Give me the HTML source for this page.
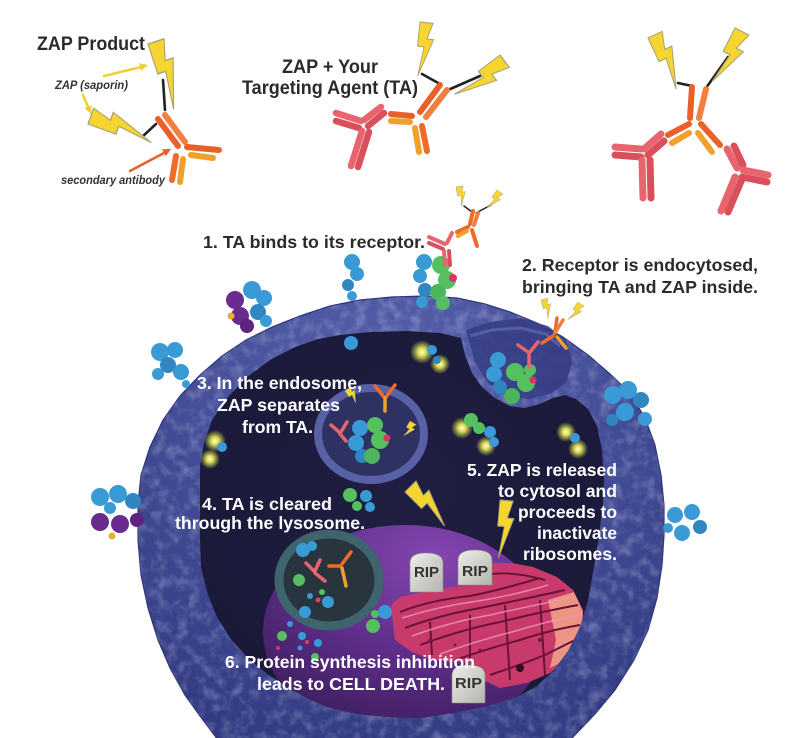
<!DOCTYPE html>
<html><head><meta charset="utf-8"><style>
html,body{margin:0;padding:0;background:#fff;}
svg{display:block;}
text{font-family:"Liberation Sans",Arial,sans-serif;font-weight:bold;}
</style></head><body>
<svg width="799" height="738" viewBox="0 0 799 738" xmlns="http://www.w3.org/2000/svg">
<defs>
<radialGradient id="memG" cx="0.5" cy="0.2" r="0.85">
 <stop offset="0" stop-color="#5a64ae"/>
 <stop offset="0.5" stop-color="#434c96"/>
 <stop offset="1" stop-color="#323b82"/>
</radialGradient>
<radialGradient id="nucG" cx="0.6" cy="0.15" r="0.9">
 <stop offset="0" stop-color="#8446b0"/>
 <stop offset="0.5" stop-color="#5f2e8a"/>
 <stop offset="1" stop-color="#3a1c5a"/>
</radialGradient>
<radialGradient id="cytG" cx="0.5" cy="0.4" r="0.7">
 <stop offset="0" stop-color="#201e42"/>
 <stop offset="1" stop-color="#191836"/>
</radialGradient>
<radialGradient id="glow">
 <stop offset="0" stop-color="#ffffd8"/>
 <stop offset="0.35" stop-color="#f2ee5a" stop-opacity="0.9"/>
 <stop offset="1" stop-color="#c8e040" stop-opacity="0"/>
</radialGradient>
<linearGradient id="tomb" x1="0" y1="0" x2="1" y2="1">
 <stop offset="0" stop-color="#eeeeea"/><stop offset="1" stop-color="#b4b4ae"/>
</linearGradient>
<path id="bolt" d="M0,0 L12,0 L8,12 L14,12 L3,40 L6,18 L0,18 Z" fill="#f6d530" stroke="#a8a278" stroke-width="0.8"/>
<filter id="tex" x="0" y="0" width="1" height="1">
 <feTurbulence type="fractalNoise" baseFrequency="0.09" numOctaves="3" seed="3" result="n"/>
 <feColorMatrix in="n" type="matrix" values="0 0 0 0 0.78  0 0 0 0 0.82  0 0 0 0 1  2.2 0 0 0 -0.95" result="c"/>
 <feComposite in="c" in2="SourceGraphic" operator="in"/>
</filter>
<path id="memP" d="M218,740 L200,716 L185,695 L170,668 L158,640 L148,608 L141,575 L138,540 L138,505 L141,475 L150,447 L163,420 L180,396 L200,375 L222,356 L246,340 L272,327 L300,316 L330,306 L360,300 L392,297 L425,296 L457,298 L485,304 L510,312 L537,323 L563,337 L588,355 L610,374 L630,393 L645,418 L655,445 L661,475 L664,505 L664,535 L662,565 L657,598 L648,630 L634,660 L615,690 L595,714 L575,735 L570,740 Z"/>
<path id="cytoP" d="M200,467 L200,500 L200,540 L201,567 L208,595 L217,617 L230,638 L247,657 L266,673 L287,687 L307,698 L327,707 L357,714 L387,717 L420,718 L453,713 L483,707 L517,697 L537,686 L553,671 L568,651 L580,627 L588,600 L594,567 L599,535 L603,505 L604,478 L602,450 L597,426 L588,409 L576,399 L565,395 L553,398 L540,404 L525,408 L510,406 L495,398 L482,387 L472,373 L465,355 L461,338 L440,333 L407,331 L370,332 L340,335 L318,339 L295,347 L270,360 L247,377 L228,397 L212,420 L204,443 Z"/>
<clipPath id="cyto"><use href="#cytoP"/></clipPath>
</defs>

<rect width="799" height="738" fill="#fff"/>

<!-- ===== TOP: ZAP Product ===== -->
<text x="37" y="50" font-size="19" fill="#2b2b2b" textLength="108" lengthAdjust="spacingAndGlyphs">ZAP Product</text>
<text x="55" y="89" font-size="11.5" font-style="italic" fill="#333" textLength="73" lengthAdjust="spacingAndGlyphs">ZAP (saporin)</text>
<text x="61" y="184" font-size="11.5" font-style="italic" fill="#333" textLength="104" lengthAdjust="spacingAndGlyphs">secondary antibody</text>
<g stroke-linecap="round">
<line x1="104" y1="76" x2="141" y2="67" stroke="#f0d030" stroke-width="2.5"/>
<polygon points="148,65 141.2,70.9 139.2,63.1" fill="#f0d030"/>
<line x1="83" y1="95" x2="88" y2="107" stroke="#f0d030" stroke-width="2.5"/>
<polygon points="91,114 91.8,105.2 84.4,108" fill="#f0d030"/>
<line x1="130" y1="171" x2="164" y2="153" stroke="#e8602a" stroke-width="2.5"/>
<polygon points="171,149 165.8,156.2 162,149.2" fill="#e8602a"/>
</g>
<g stroke="#222" stroke-width="2.6" stroke-linecap="round">
<line x1="165" y1="110" x2="163" y2="80"/>
<line x1="156" y1="124" x2="142" y2="137"/>
</g>
<use href="#bolt" transform="translate(148,44) rotate(-18) scale(1.4,1.75)"/>
<use href="#bolt" transform="translate(88,124) rotate(-70) scale(1.4,1.65)"/>
<g stroke-linecap="round" stroke-width="6">
<line x1="158" y1="119" x2="178" y2="146" stroke="#e8602a"/>
<line x1="165" y1="115" x2="185" y2="142" stroke="#f08040"/>
<line x1="187" y1="147" x2="219" y2="150" stroke="#e8602a"/>
<line x1="191" y1="155" x2="213" y2="158" stroke="#f2a02c"/>
<line x1="176" y1="156" x2="172" y2="180" stroke="#ee6b2a"/>
<line x1="183" y1="159" x2="180" y2="182" stroke="#f2a02c"/>
</g>

<!-- ===== TOP: ZAP + TA ===== -->
<text x="282" y="73" font-size="19.5" fill="#2b2b2b" textLength="96" lengthAdjust="spacingAndGlyphs">ZAP + Your</text>
<text x="242" y="94" font-size="19.5" fill="#2b2b2b" textLength="176" lengthAdjust="spacingAndGlyphs">Targeting Agent (TA)</text>
<g stroke-linecap="round" stroke-width="6.5">
<line x1="336" y1="113" x2="361" y2="121" stroke="#e8646e"/>
<line x1="336" y1="121" x2="359" y2="128" stroke="#d9505c"/>
<line x1="364" y1="120" x2="381" y2="107" stroke="#e8646e"/>
<line x1="368" y1="126" x2="384" y2="113" stroke="#d9505c"/>
<line x1="362" y1="131" x2="351" y2="166" stroke="#e8646e"/>
<line x1="369" y1="132" x2="358" y2="167" stroke="#d9505c"/>
</g>
<g stroke="#222" stroke-width="2.6" stroke-linecap="round">
<line x1="440" y1="84" x2="422" y2="74"/>
<line x1="448" y1="90" x2="480" y2="76"/>
</g>
<use href="#bolt" transform="translate(420,22) rotate(6) scale(1.1,1.35)"/>
<use href="#bolt" transform="translate(500,55) rotate(53) scale(1.3,1.5)"/>
<g stroke-linecap="round" stroke-width="6">
<line x1="420" y1="112" x2="440" y2="85" stroke="#e8602a"/>
<line x1="426" y1="117" x2="447" y2="90" stroke="#f08040"/>
<line x1="412" y1="116" x2="391" y2="114" stroke="#e8602a"/>
<line x1="410" y1="122" x2="391" y2="121" stroke="#f2a02c"/>
<line x1="422" y1="126" x2="427" y2="151" stroke="#ee6b2a"/>
<line x1="415" y1="128" x2="419" y2="152" stroke="#f2a02c"/>
</g>

<!-- ===== TOP RIGHT ===== -->
<g stroke="#222" stroke-width="2.6" stroke-linecap="round">
<line x1="692" y1="86" x2="678" y2="83"/>
<line x1="706" y1="88" x2="728" y2="57"/>
</g>
<use href="#bolt" transform="translate(648,38) rotate(-25) scale(1.3,1.45)"/>
<use href="#bolt" transform="translate(735,28) rotate(27) scale(1.3,1.45)"/>
<g stroke-linecap="round" stroke-width="6">
<line x1="690" y1="118" x2="692" y2="87" stroke="#e8602a"/>
<line x1="699" y1="118" x2="706" y2="89" stroke="#f08040"/>
<line x1="689" y1="124" x2="668" y2="135" stroke="#e8602a"/>
<line x1="689" y1="133" x2="672" y2="143" stroke="#f2a02c"/>
<line x1="701" y1="124" x2="720" y2="145" stroke="#e8602a"/>
<line x1="698" y1="133" x2="712" y2="152" stroke="#f2a02c"/>
</g>
<g stroke-linecap="round" stroke-width="7">
<line x1="615" y1="147" x2="641" y2="149" stroke="#e8646e"/>
<line x1="615" y1="155" x2="641" y2="157" stroke="#d9505c"/>
<line x1="644" y1="149" x2="661" y2="134" stroke="#e8646e"/>
<line x1="648" y1="155" x2="664" y2="141" stroke="#d9505c"/>
<line x1="642" y1="160" x2="643" y2="198" stroke="#e8646e"/>
<line x1="650" y1="160" x2="651" y2="198" stroke="#d9505c"/>
<line x1="727" y1="149" x2="737" y2="168" stroke="#e8646e"/>
<line x1="734" y1="146" x2="743" y2="165" stroke="#d9505c"/>
<line x1="743" y1="170" x2="768" y2="175" stroke="#e8646e"/>
<line x1="742" y1="177" x2="767" y2="182" stroke="#d9505c"/>
<line x1="735" y1="177" x2="721" y2="211" stroke="#e8646e"/>
<line x1="742" y1="179" x2="728" y2="212" stroke="#d9505c"/>
</g>

<!-- ===== CELL ===== -->
<use href="#memP" fill="url(#memG)" stroke="#2c3475" stroke-width="1.2"/>
<use href="#memP" fill="#fff" filter="url(#tex)" opacity="0.28"/>
<path d="M466,330 L490,322 L520,318 L548,326 L566,340 L572,362 L566,383 L550,394 L528,399 L505,395 L488,383 L475,362 Z" fill="#353c82" opacity="0.85"/>
<path d="M470,336 L492,330 L520,328 L546,334 L560,346" fill="none" stroke="#6a72b8" stroke-width="3" opacity="0.6"/>
<use href="#cytoP" fill="url(#cytG)"/>
<g clip-path="url(#cyto)">
 <ellipse cx="405" cy="632" rx="142" ry="107" fill="url(#nucG)"/>
 <path d="M391,605 L400,597 L433,590 L467,585 L478,570 L490,563 L512,563 L533,567 L557,577 L573,590 L583,610 L583,633 L573,653 L550,673 L527,683 L500,688 L483,680 L467,662 L450,662 L433,660 L412,652 L395,640 Z" fill="#c93a6c"/>
 <path d="M548,600 L574,592 L583,612 L580,640 L566,660 L550,668 L556,640 Z" fill="#f2a68a" opacity="0.85"/>
 <g fill="none" stroke="#6b1236" stroke-width="2">
  <path d="M400,612 Q430,600 470,596 Q500,590 540,578"/>
  <path d="M405,628 Q440,615 480,608 Q520,600 565,590"/>
  <path d="M420,645 Q460,630 500,622 Q540,612 578,605"/>
  <path d="M455,660 Q490,648 520,640 Q550,630 580,625"/>
  <path d="M490,675 Q520,665 545,655 Q565,645 575,640"/>
  <path d="M485,575 Q510,570 545,580"/>
  <path d="M430,622 L432,655 M470,615 L470,660 M505,605 L510,680 M540,600 L545,675"/>
 </g>
 <g fill="none" stroke="#f09ab2" stroke-width="1.5" opacity="0.8">
  <path d="M402,618 Q440,606 478,601 Q515,595 548,585"/>
  <path d="M412,636 Q450,622 490,615 Q530,606 570,598"/>
  <path d="M440,654 Q480,640 512,632 Q545,622 578,615"/>
 </g>
 <circle cx="520" cy="668" r="4" fill="#3a0a20"/>
 <circle cx="540" cy="640" r="2" fill="#7a1a40"/>
 <circle cx="430" cy="640" r="1.5" fill="#7a1a40"/>
 <circle cx="455" cy="645" r="1.5" fill="#7a1a40"/>
 <circle cx="480" cy="650" r="1.5" fill="#7a1a40"/>
</g>

<ellipse cx="329" cy="580" rx="50" ry="46" fill="#28343e" stroke="#3f646e" stroke-width="9"/>
<ellipse cx="371" cy="434" rx="53" ry="46" fill="#2e3262" stroke="#5860a6" stroke-width="8"/>

<path d="M410,592 L410,563 Q410,553 426,553 Q443,553 443,563 L443,592 Z" fill="url(#tomb)" stroke="#8a8a86" stroke-width="0.6"/>
<path d="M458,585 L458,560 Q458,550 475,550 Q492,550 492,560 L492,585 Z" fill="url(#tomb)" stroke="#8a8a86" stroke-width="0.6"/>
<path d="M452,703 L452,675 Q452,665 468,665 Q485,665 485,675 L485,703 Z" fill="url(#tomb)" stroke="#8a8a86" stroke-width="0.6"/>
<text x="414" y="577" font-size="15" fill="#333" textLength="25" lengthAdjust="spacingAndGlyphs">RIP</text>
<text x="462" y="576" font-size="15" fill="#333" textLength="26" lengthAdjust="spacingAndGlyphs">RIP</text>
<text x="455" y="688" font-size="15" fill="#333" textLength="27" lengthAdjust="spacingAndGlyphs">RIP</text>

<g>
<circle cx="422" cy="352" r="12" fill="url(#glow)"/>
<circle cx="440" cy="364" r="10" fill="url(#glow)"/>
<circle cx="215" cy="441" r="11" fill="url(#glow)"/>
<circle cx="210" cy="459" r="10" fill="url(#glow)"/>
<circle cx="462" cy="428" r="11" fill="url(#glow)"/>
<circle cx="486" cy="446" r="10" fill="url(#glow)"/>
<circle cx="566" cy="432" r="10" fill="url(#glow)"/>
<circle cx="578" cy="449" r="10" fill="url(#glow)"/>
</g>

<g>
<circle cx="351" cy="343" r="7" fill="#3a9ad6"/>
<circle cx="432" cy="350" r="5" fill="#3a9ad6"/>
<circle cx="437" cy="360" r="4" fill="#2f86c0"/>
<circle cx="222" cy="447" r="5" fill="#3a9ad6"/>
<circle cx="471" cy="420" r="7" fill="#55c060"/>
<circle cx="479" cy="428" r="6" fill="#55c060"/>
<circle cx="490" cy="432" r="6" fill="#3a9ad6"/>
<circle cx="494" cy="442" r="5" fill="#3a9ad6"/>
<circle cx="575" cy="438" r="5" fill="#3a9ad6"/>
<circle cx="498" cy="360" r="8" fill="#3a9ad6"/>
<circle cx="494" cy="374" r="8" fill="#3a9ad6"/>
<circle cx="500" cy="387" r="7" fill="#2f86c0"/>
<circle cx="515" cy="372" r="9" fill="#55c060"/>
<circle cx="526" cy="383" r="9" fill="#55c060"/>
<circle cx="512" cy="396" r="8" fill="#4cb45a"/>
<circle cx="530" cy="370" r="6" fill="#55c060"/>
<circle cx="533" cy="380" r="3.5" fill="#e0306a"/>
<circle cx="360" cy="428" r="8" fill="#3a9ad6"/>
<circle cx="356" cy="443" r="8" fill="#3a9ad6"/>
<circle cx="362" cy="456" r="7" fill="#2f86c0"/>
<circle cx="375" cy="425" r="8" fill="#55c060"/>
<circle cx="380" cy="440" r="9" fill="#55c060"/>
<circle cx="372" cy="456" r="8" fill="#4cb45a"/>
<circle cx="387" cy="438" r="3.5" fill="#e0306a"/>
<circle cx="350" cy="495" r="7" fill="#55c060"/>
<circle cx="357" cy="506" r="5" fill="#55c060"/>
<circle cx="366" cy="496" r="6" fill="#3a9ad6"/>
<circle cx="370" cy="507" r="5" fill="#3a9ad6"/>
<circle cx="303" cy="550" r="7" fill="#3a9ad6"/>
<circle cx="312" cy="546" r="5" fill="#3a9ad6"/>
<circle cx="299" cy="580" r="6" fill="#55c060"/>
<circle cx="310" cy="596" r="3" fill="#3a9ad6"/>
<circle cx="322" cy="592" r="3" fill="#55c060"/>
<circle cx="328" cy="602" r="6" fill="#3a9ad6"/>
<circle cx="305" cy="612" r="6" fill="#3a9ad6"/>
<circle cx="318" cy="600" r="2.5" fill="#e0405a"/>
<circle cx="373" cy="626" r="7" fill="#55c060"/>
<circle cx="375" cy="614" r="4" fill="#55c060"/>
<circle cx="385" cy="612" r="7" fill="#3a9ad6"/>
<circle cx="282" cy="636" r="5" fill="#55c060"/>
<circle cx="290" cy="624" r="3" fill="#3a9ad6"/>
<circle cx="302" cy="636" r="4" fill="#3a9ad6"/>
<circle cx="318" cy="643" r="4" fill="#3a9ad6"/>
<circle cx="300" cy="648" r="2.5" fill="#3a9ad6"/>
<circle cx="307" cy="642" r="2" fill="#e0405a"/>
<circle cx="315" cy="657" r="4" fill="#55c060"/>
<circle cx="278" cy="648" r="2" fill="#e0306a"/>
</g>
<g stroke-linecap="round" stroke-width="3.5">
<line x1="518" y1="345" x2="528" y2="352" stroke="#e8646e"/>
<line x1="538" y1="342" x2="530" y2="352" stroke="#e8646e"/>
<line x1="529" y1="354" x2="529" y2="367" stroke="#e8646e"/>
<line x1="555" y1="333" x2="557" y2="318" stroke="#ee6b2a"/>
<line x1="555" y1="333" x2="563" y2="320" stroke="#f08040"/>
<line x1="553" y1="336" x2="542" y2="343" stroke="#ee6b2a"/>
<line x1="557" y1="337" x2="566" y2="348" stroke="#f2a02c"/>
<line x1="375" y1="386" x2="384" y2="397" stroke="#ee6b2a"/>
<line x1="395" y1="385" x2="386" y2="397" stroke="#ee6b2a"/>
<line x1="385" y1="398" x2="385" y2="411" stroke="#f2a02c"/>
<line x1="331" y1="425" x2="339" y2="432" stroke="#e8646e"/>
<line x1="347" y1="422" x2="341" y2="432" stroke="#e8646e"/>
<line x1="340" y1="434" x2="346" y2="441" stroke="#e8646e"/>
<line x1="306" y1="563" x2="314" y2="571" stroke="#e8646e"/>
<line x1="320" y1="560" x2="315" y2="571" stroke="#e8646e"/>
<line x1="315" y1="573" x2="325" y2="581" stroke="#e8646e"/>
<line x1="329" y1="566" x2="340" y2="566" stroke="#ee6b2a"/>
<line x1="342" y1="564" x2="351" y2="552" stroke="#ee6b2a"/>
<line x1="342" y1="568" x2="346" y2="586" stroke="#f2a02c"/>
</g>
<use href="#bolt" transform="translate(345,391) rotate(-35) scale(0.6,0.4)"/>
<use href="#bolt" transform="translate(410,421) rotate(30) scale(0.6,0.4)"/>
<use href="#bolt" transform="translate(405,492) rotate(-45) scale(1.3,1.3)"/>
<use href="#bolt" transform="translate(500,500) rotate(5) scale(1.1,1.45)"/>
<use href="#bolt" transform="translate(541,300) rotate(-15) scale(0.6,0.5)"/>
<use href="#bolt" transform="translate(578,302) rotate(35) scale(0.6,0.5)"/>

<g>
<circle cx="352" cy="262" r="8" fill="#3a9ad6"/>
<circle cx="357" cy="274" r="7" fill="#3a9ad6"/>
<circle cx="348" cy="285" r="6" fill="#2f86c0"/>
<circle cx="352" cy="296" r="5" fill="#3a9ad6"/>
<circle cx="424" cy="262" r="8" fill="#3a9ad6"/>
<circle cx="420" cy="276" r="7" fill="#3a9ad6"/>
<circle cx="425" cy="290" r="7" fill="#2f86c0"/>
<circle cx="422" cy="302" r="6" fill="#3a9ad6"/>
<circle cx="441" cy="265" r="9" fill="#55c060"/>
<circle cx="447" cy="280" r="9" fill="#55c060"/>
<circle cx="438" cy="292" r="8" fill="#4cb45a"/>
<circle cx="443" cy="303" r="7" fill="#55c060"/>
<circle cx="453" cy="278" r="4" fill="#e0306a"/>
<circle cx="235" cy="300" r="9" fill="#6b2a8e"/>
<circle cx="240" cy="316" r="9" fill="#6b2a8e"/>
<circle cx="247" cy="326" r="7" fill="#5e2480"/>
<circle cx="231" cy="316" r="3.5" fill="#e8b030"/>
<circle cx="252" cy="290" r="9" fill="#3a9ad6"/>
<circle cx="264" cy="298" r="8" fill="#3a9ad6"/>
<circle cx="258" cy="312" r="8" fill="#2f86c0"/>
<circle cx="266" cy="321" r="6" fill="#3a9ad6"/>
<circle cx="160" cy="352" r="9" fill="#3a9ad6"/>
<circle cx="175" cy="350" r="8" fill="#3a9ad6"/>
<circle cx="168" cy="365" r="8" fill="#2f86c0"/>
<circle cx="181" cy="372" r="8" fill="#3a9ad6"/>
<circle cx="158" cy="374" r="6" fill="#3a9ad6"/>
<circle cx="186" cy="384" r="4" fill="#3a9ad6"/>
<circle cx="100" cy="497" r="9" fill="#3a9ad6"/>
<circle cx="118" cy="494" r="9" fill="#3a9ad6"/>
<circle cx="133" cy="501" r="8" fill="#2f86c0"/>
<circle cx="110" cy="508" r="6" fill="#3a9ad6"/>
<circle cx="100" cy="522" r="9" fill="#6b2a8e"/>
<circle cx="120" cy="524" r="9" fill="#6b2a8e"/>
<circle cx="137" cy="520" r="7" fill="#5e2480"/>
<circle cx="112" cy="536" r="3.5" fill="#e8b030"/>
<circle cx="613" cy="395" r="9" fill="#3a9ad6"/>
<circle cx="628" cy="390" r="9" fill="#3a9ad6"/>
<circle cx="641" cy="400" r="8" fill="#2f86c0"/>
<circle cx="625" cy="412" r="9" fill="#3a9ad6"/>
<circle cx="645" cy="419" r="7" fill="#3a9ad6"/>
<circle cx="612" cy="420" r="6" fill="#2f86c0"/>
<circle cx="675" cy="515" r="8" fill="#3a9ad6"/>
<circle cx="692" cy="512" r="8" fill="#3a9ad6"/>
<circle cx="700" cy="527" r="7" fill="#2f86c0"/>
<circle cx="682" cy="533" r="8" fill="#3a9ad6"/>
<circle cx="668" cy="528" r="5" fill="#3a9ad6"/>
</g>

<g stroke="#222" stroke-width="1.5" stroke-linecap="round">
<line x1="472" y1="212" x2="464" y2="206"/>
<line x1="476" y1="213" x2="491" y2="205"/>
</g>
<use href="#bolt" transform="translate(456,187) rotate(-10) scale(0.6,0.5)"/>
<use href="#bolt" transform="translate(497,190) rotate(35) scale(0.6,0.5)"/>
<g stroke-linecap="round" stroke-width="4">
<line x1="429" y1="237" x2="445" y2="244" stroke="#e8646e"/>
<line x1="429" y1="243" x2="443" y2="249" stroke="#d9505c"/>
<line x1="447" y1="243" x2="452" y2="233" stroke="#e8646e"/>
<line x1="444" y1="251" x2="445" y2="265" stroke="#e8646e"/>
<line x1="449" y1="251" x2="450" y2="265" stroke="#d9505c"/>
<line x1="470" y1="224" x2="473" y2="211" stroke="#ee6b2a"/>
<line x1="474" y1="225" x2="478" y2="213" stroke="#f08040"/>
<line x1="468" y1="227" x2="457" y2="232" stroke="#ee6b2a"/>
<line x1="467" y1="231" x2="458" y2="236" stroke="#f2a02c"/>
<line x1="472" y1="230" x2="477" y2="246" stroke="#ee6b2a"/>
</g>

<text x="203" y="248" font-size="17.5" fill="#2b2b2b" textLength="222" lengthAdjust="spacingAndGlyphs">1. TA binds to its receptor.</text>
<text x="522" y="271" font-size="17.5" fill="#2b2b2b" textLength="236" lengthAdjust="spacingAndGlyphs">2. Receptor is endocytosed,</text>
<text x="522" y="293" font-size="17.5" fill="#2b2b2b" textLength="236" lengthAdjust="spacingAndGlyphs">bringing TA and ZAP inside.</text>

<g fill="#ffffff" font-size="17.5">
<text x="197" y="389" textLength="165" lengthAdjust="spacingAndGlyphs">3. In the endosome,</text>
<text x="217" y="411" textLength="123" lengthAdjust="spacingAndGlyphs">ZAP separates</text>
<text x="242" y="433" textLength="71" lengthAdjust="spacingAndGlyphs">from TA.</text>
<text x="202" y="510" textLength="130" lengthAdjust="spacingAndGlyphs">4. TA is cleared</text>
<text x="175" y="529" textLength="190" lengthAdjust="spacingAndGlyphs">through the lysosome.</text>
<text x="467" y="476" textLength="150" lengthAdjust="spacingAndGlyphs">5. ZAP is released</text>
<text x="498" y="497" textLength="119" lengthAdjust="spacingAndGlyphs">to cytosol and</text>
<text x="518" y="518" textLength="99" lengthAdjust="spacingAndGlyphs">proceeds to</text>
<text x="537" y="539" textLength="80" lengthAdjust="spacingAndGlyphs">inactivate</text>
<text x="523" y="560" textLength="94" lengthAdjust="spacingAndGlyphs">ribosomes.</text>
<text x="225" y="668" textLength="250" lengthAdjust="spacingAndGlyphs">6. Protein synthesis inhibition</text>
<text x="257" y="690" textLength="188" lengthAdjust="spacingAndGlyphs">leads to CELL DEATH.</text>
</g>
</svg>
</body></html>
